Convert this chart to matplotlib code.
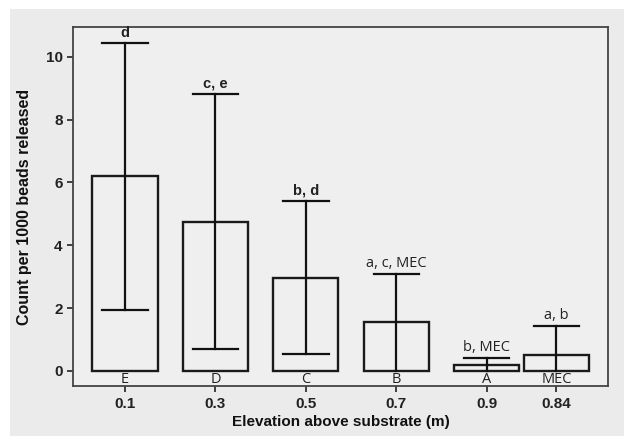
import matplotlib.pyplot as plt
from matplotlib.patches import Rectangle

# data
elevations = ['0.1', '0.3', '0.5', '0.7', '0.9', '0.84']
group_codes = ['E', 'D', 'C', 'B', 'A', 'MEC']
means = [6.2, 4.75, 2.97, 1.57, 0.19, 0.51]
upper = [10.45, 8.83, 5.41, 3.09, 0.41, 1.43]
lower = [1.93, 0.70, 0.54, 0.0, 0.0, 0.0]
sig_labels = ['d', 'c, e', 'b, d', 'a, c, MEC', 'b, MEC', 'a, b']
sig_bold = [True, True, True, False, False, False]

fig = plt.figure(figsize=(6.24, 4.36), dpi=100, facecolor='white')
# grey scanned-page background
fig.patches.append(Rectangle((10 / 624, 0), 1, (436 - 9) / 436, transform=fig.transFigure,
                             facecolor='#ebebeb', edgecolor='none', zorder=-5))
ax = fig.add_axes([73 / 624, 50 / 436, 535 / 624, 359 / 436])
ax.set_facecolor('#efefef')

pos = [0, 1, 2, 3, 4, 4.77]
ax.bar(pos, means, width=0.72, facecolor='none', edgecolor='#1a1a1a', linewidth=1.7, zorder=2)

for x, m, hi, lo, lab, b in zip(pos, means, upper, lower, sig_labels, sig_bold):
    ax.plot([x, x], [lo, hi], color='#111111', lw=1.6, zorder=3)
    ax.plot([x - 0.25, x + 0.25], [hi, hi], color='#111111', lw=1.6, zorder=3)
    if lo > 0:
        ax.plot([x - 0.25, x + 0.25], [lo, lo], color='#111111', lw=1.6, zorder=3)
    ax.text(x, hi + 0.1, lab, ha='center', va='bottom', fontsize=10.5,
            fontweight='bold' if b else 'normal',
            family='Liberation Sans' if b else 'Open Sans', color='#222222')

for x, code in zip(pos, group_codes):
    ax.text(x, -0.04, code, ha='center', va='top', fontsize=10.5, family='Open Sans', color='#222222')

ax.set_xlim(-0.575, 5.34)
ax.set_ylim(-0.48, 10.95)
ax.set_xticks(pos)
ax.set_xticklabels(elevations)
ax.set_yticks([0, 2, 4, 6, 8, 10])

for s in ax.spines.values():
    s.set_color('#444444')
    s.set_linewidth(1.3)
ax.tick_params(axis='both', colors='#333333', width=1.3, length=4, labelsize=11, labelcolor='#222222')
ax.tick_params(axis='x', pad=4)
for t in ax.get_xticklabels() + ax.get_yticklabels():
    t.set_fontweight('bold')
    t.set_family('Liberation Sans')

ax.set_xlabel('Elevation above substrate (m)', fontsize=11, fontweight='bold', family='Liberation Sans',
              color='#111111', labelpad=3)
ax.set_ylabel('Count per 1000 beads released', fontsize=11.5, fontweight='bold', family='Liberation Sans',
              color='#111111', labelpad=10)

plt.savefig('out.png', dpi=100, facecolor=fig.get_facecolor())
